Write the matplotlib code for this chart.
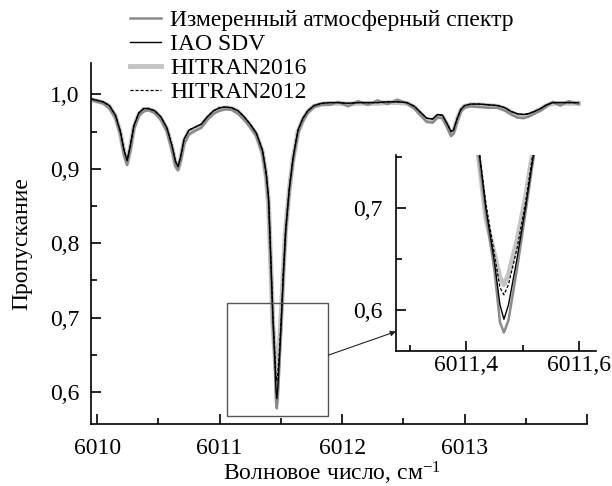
import matplotlib
matplotlib.use("Agg")
import matplotlib.pyplot as plt
from matplotlib.patches import Rectangle, ConnectionPatch
from matplotlib.ticker import MultipleLocator, FuncFormatter

plt.rcParams['font.family'] = ['Liberation Serif', 'DejaVu Serif']
plt.rcParams['mathtext.fontset'] = 'custom'
plt.rcParams['mathtext.rm'] = 'Liberation Serif'
plt.rcParams['mathtext.it'] = 'Liberation Serif:italic'

# --- data ---
wavenumber = [
    6009.95, 6010.00, 6010.05, 6010.10, 6010.15, 6010.19, 6010.22, 6010.245, 6010.27, 6010.30,
    6010.34, 6010.38, 6010.42, 6010.47, 6010.52, 6010.57, 6010.61, 6010.64, 6010.66, 6010.68,
    6010.71, 6010.75, 6010.80, 6010.85, 6010.90, 6010.95, 6011.00, 6011.05, 6011.10, 6011.15,
    6011.20, 6011.25, 6011.30, 6011.35, 6011.38, 6011.40, 6011.42, 6011.435, 6011.45, 6011.46,
    6011.467, 6011.475, 6011.49, 6011.505, 6011.52, 6011.54, 6011.57, 6011.60, 6011.64, 6011.68,
    6011.72, 6011.77, 6011.83, 6011.90, 6011.97, 6012.05, 6012.13, 6012.21, 6012.29, 6012.37,
    6012.45, 6012.53, 6012.59, 6012.64, 6012.69, 6012.74, 6012.78, 6012.82, 6012.86, 6012.89,
    6012.91, 6012.94, 6012.97, 6013.00, 6013.05, 6013.12, 6013.20, 6013.27, 6013.33, 6013.38,
    6013.43, 6013.48, 6013.52, 6013.57, 6013.62, 6013.67, 6013.72, 6013.78, 6013.85, 6013.93,
]
hitran2012 = [
    0.994, 0.992, 0.990, 0.985, 0.972, 0.950, 0.925, 0.912, 0.930, 0.958,
    0.975, 0.981, 0.981, 0.978, 0.970, 0.955, 0.932, 0.910, 0.903, 0.915,
    0.940, 0.952, 0.956, 0.960, 0.970, 0.978, 0.982, 0.983, 0.982, 0.978,
    0.970, 0.960, 0.948, 0.925, 0.895, 0.860, 0.770, 0.705, 0.655, 0.622,
    0.615, 0.625, 0.660, 0.705, 0.760, 0.820, 0.875, 0.915, 0.952, 0.968,
    0.978, 0.985, 0.988, 0.989, 0.989, 0.988, 0.989, 0.989, 0.989, 0.990,
    0.990, 0.989, 0.984, 0.976, 0.968, 0.967, 0.973, 0.972, 0.960, 0.950,
    0.952, 0.968, 0.980, 0.985, 0.987, 0.987, 0.986, 0.985, 0.982, 0.977,
    0.974, 0.973, 0.974, 0.977, 0.981, 0.986, 0.989, 0.989, 0.989, 0.989,
]
iao_sdv = [
    0.994, 0.992, 0.990, 0.985, 0.972, 0.950, 0.925, 0.911, 0.930, 0.958,
    0.975, 0.981, 0.981, 0.978, 0.970, 0.955, 0.932, 0.910, 0.903, 0.915,
    0.940, 0.952, 0.956, 0.960, 0.970, 0.978, 0.982, 0.983, 0.982, 0.978,
    0.970, 0.960, 0.948, 0.925, 0.895, 0.860, 0.770, 0.700, 0.648, 0.605,
    0.591, 0.605, 0.650, 0.700, 0.755, 0.818, 0.875, 0.915, 0.952, 0.968,
    0.978, 0.985, 0.988, 0.989, 0.989, 0.988, 0.989, 0.989, 0.989, 0.990,
    0.990, 0.989, 0.984, 0.976, 0.968, 0.967, 0.973, 0.972, 0.960, 0.950,
    0.952, 0.968, 0.980, 0.985, 0.987, 0.987, 0.986, 0.985, 0.982, 0.977,
    0.974, 0.973, 0.974, 0.977, 0.981, 0.986, 0.989, 0.989, 0.989, 0.989,
]
hitran2016 = [
    0.993, 0.991, 0.989, 0.984, 0.970, 0.948, 0.922, 0.908, 0.927, 0.956,
    0.973, 0.980, 0.980, 0.977, 0.968, 0.953, 0.929, 0.906, 0.900, 0.912,
    0.937, 0.950, 0.954, 0.958, 0.968, 0.976, 0.981, 0.982, 0.981, 0.977,
    0.968, 0.958, 0.946, 0.922, 0.890, 0.852, 0.760, 0.690, 0.655, 0.632,
    0.625, 0.635, 0.668, 0.710, 0.762, 0.820, 0.874, 0.913, 0.950, 0.966,
    0.977, 0.984, 0.987, 0.988, 0.988, 0.987, 0.988, 0.988, 0.988, 0.989,
    0.989, 0.988, 0.983, 0.974, 0.966, 0.965, 0.971, 0.970, 0.958, 0.947,
    0.950, 0.966, 0.979, 0.984, 0.986, 0.986, 0.985, 0.984, 0.981, 0.976,
    0.972, 0.971, 0.972, 0.976, 0.980, 0.985, 0.988, 0.988, 0.988, 0.988,
]
measured = [
    0.993, 0.990, 0.988, 0.981, 0.968, 0.946, 0.918, 0.905, 0.924, 0.953,
    0.971, 0.977, 0.979, 0.975, 0.966, 0.950, 0.926, 0.903, 0.898, 0.909,
    0.933, 0.946, 0.951, 0.955, 0.966, 0.974, 0.978, 0.980, 0.979, 0.974,
    0.966, 0.956, 0.944, 0.920, 0.888, 0.852, 0.762, 0.695, 0.640, 0.588,
    0.578, 0.590, 0.640, 0.695, 0.752, 0.815, 0.870, 0.910, 0.948, 0.964,
    0.975, 0.983, 0.986, 0.986, 0.990, 0.984, 0.991, 0.986, 0.992, 0.987,
    0.993, 0.988, 0.981, 0.972, 0.963, 0.962, 0.969, 0.968, 0.955, 0.944,
    0.947, 0.963, 0.977, 0.982, 0.984, 0.983, 0.982, 0.982, 0.978, 0.973,
    0.969, 0.968, 0.970, 0.974, 0.978, 0.984, 0.990, 0.985, 0.991, 0.987,
]

labels = ['Измеренный атмосферный спектр', 'IAO SDV', 'HITRAN2016', 'HITRAN2012']

comma = FuncFormatter(lambda v, pos: f"{v:.1f}".replace('.', ','))


def draw_lines(ax):
    l16, = ax.plot(wavenumber, hitran2016, color='#c4c4c4', lw=3.5, zorder=1)
    lme, = ax.plot(wavenumber, measured, color='#8a8a8a', lw=1.8, zorder=2)
    liao, = ax.plot(wavenumber, iao_sdv, color='black', lw=1.0, zorder=3)
    l12, = ax.plot(wavenumber, hitran2012, color='black', lw=0.9, ls=(0, (2.5, 1.5)), zorder=4)
    return [lme, liao, l16, l12]


def style_axes(ax):
    for side in ('top', 'right'):
        ax.spines[side].set_visible(False)
    ax.spines['left'].set_linewidth(1.2)
    ax.spines['bottom'].set_linewidth(1.2)
    ax.tick_params(which='both', direction='in', width=1.2)
    ax.tick_params(which='major', length=7)
    ax.tick_params(which='minor', length=4)


fig = plt.figure(figsize=(6.12, 4.86), dpi=100)

# --- main axes ---
ax = fig.add_axes([0.1487, 0.1276, 0.8105, 0.7424])
handles = draw_lines(ax)
style_axes(ax)
ax.set_xlim(6009.95, 6014.0)
ax.set_ylim(0.557, 1.042)
ax.xaxis.set_major_locator(MultipleLocator(1))
ax.xaxis.set_minor_locator(MultipleLocator(0.5))
ax.xaxis.set_major_formatter(FuncFormatter(lambda v, pos: '' if v > 6013.5 else f"{v:.0f}"))
ax.yaxis.set_major_locator(MultipleLocator(0.1))
ax.yaxis.set_minor_locator(MultipleLocator(0.05))
ax.yaxis.set_major_formatter(comma)
ax.tick_params(axis='both', labelsize=17)
ax.tick_params(axis='x', pad=10)
ax.tick_params(axis='y', pad=8)
ax.set_xlabel('Волновое число, см$^{-1}$', fontsize=17)
ax.set_ylabel('Пропускание', fontsize=17, labelpad=13)
ax.xaxis.set_label_coords(0.485, -0.1)

# zoom box
ax.add_patch(Rectangle((6011.063, 0.568), 0.826, 0.152, fill=False,
                       edgecolor='#555555', lw=1.0, zorder=5))

# legend
fig.legend(handles, labels, loc='upper left', bbox_to_anchor=(0.205, 0.99),
           frameon=False, fontsize=17, handlelength=1.3, handletextpad=0.4,
           labelspacing=0.1, borderaxespad=0.0, borderpad=0.2)

# --- inset ---
axin = fig.add_axes([0.647, 0.278, 0.327, 0.403])
draw_lines(axin)
style_axes(axin)
axin.set_xlim(6011.276, 6011.63)
axin.set_ylim(0.56, 0.752)
axin.xaxis.set_major_locator(MultipleLocator(0.2))
axin.xaxis.set_minor_locator(MultipleLocator(0.1))
axin.xaxis.set_major_formatter(FuncFormatter(lambda v, pos: f"{v:.1f}".replace('.', ',')))
axin.yaxis.set_major_locator(MultipleLocator(0.1))
axin.yaxis.set_minor_locator(MultipleLocator(0.05))
axin.yaxis.set_major_formatter(comma)
axin.tick_params(axis='both', labelsize=17)
axin.tick_params(axis='x', pad=3)
axin.tick_params(axis='y', pad=10)

con = ConnectionPatch(xyA=(6011.889, 0.6496), coordsA=ax.transData,
                      xyB=(6011.276, 0.579), coordsB=axin.transData,
                      arrowstyle='-|>', mutation_scale=8, lw=0.8, color='#222222')
fig.add_artist(con)

fig.savefig('out.png', dpi=100)
